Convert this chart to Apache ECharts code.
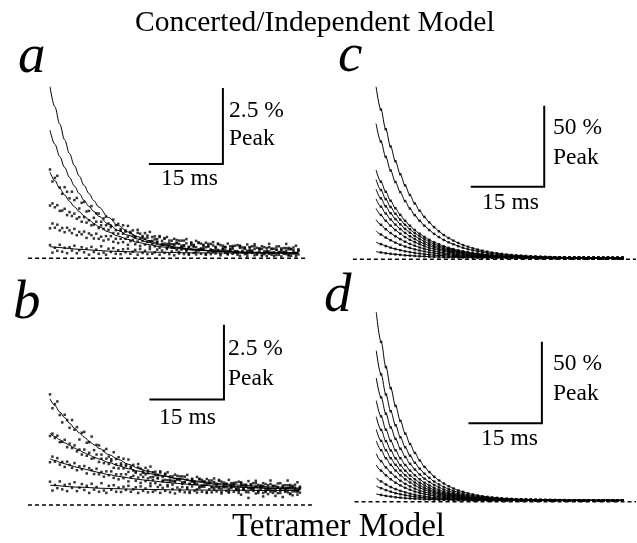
<!DOCTYPE html>
<html>
<head>
<meta charset="utf-8">
<script src="https://cdn.jsdelivr.net/npm/echarts@6/dist/echarts.min.js"></script>
<style>
html,body{margin:0;padding:0;background:#fff;}
#chart{width:637px;height:543px;}
</style>
</head>
<body>
<div id="chart"></div>
<script>
// ---------- time grids (ms) ----------
const tA = [0,0.5,1,1.5,2,2.5,3,3.5,4,4.5,5,5.5,6,6.5,7,7.5,8,8.5,9,9.5,10,10.5,11,11.5,12,12.5,13,13.5,14,14.5,15,15.5,16,16.5,17,17.5,18,18.5,19,19.5,20,20.5,21,21.5,22,22.5,23,23.5,24,24.5,25,25.5,26,26.5,27,27.5,28,28.5,29,29.5,30,30.5,31,31.5,32,32.5,33,33.5,34,34.5,35,35.5,36,36.5,37,37.5,38,38.5,39,39.5,40,40.5,41,41.5,42,42.5,43,43.5,44,44.5,45,45.5,46,46.5,47,47.5,48,48.5,49,49.5,50,50.5,51];
const tFit = [0,1,2,3,4,5,6,7,8,9,10,12,14,16,18,20,23,26,30,35,40,45,51];
const tC = [0,1,2,3,4,5,6,7,8,9,10,11,12,13,14,15,16,17,18,19,20,21,22,23,24,25,26,27,28,29,30,31,32,33,34,35,36,37,38,39,40,41,42,43,44,45,46,47,48,49,50,51];

// ---------- panel a: recorded traces (% peak) ----------
const aData1 = [2.96,2.56,2.68,2.75,2.36,2.15,2.37,2.22,2.00,2.22,1.94,2.01,1.66,1.85,1.88,1.56,1.58,1.74,1.35,1.50,1.49,1.22,1.33,1.39,1.16,1.09,1.29,1.10,1.15,0.92,1.10,0.93,1.08,0.84,0.93,0.72,0.95,0.82,0.70,0.84,0.69,0.88,0.58,0.73,0.64,0.74,0.48,0.67,0.71,0.50,0.59,0.44,0.61,0.48,0.59,0.42,0.50,0.37,0.53,0.45,0.37,0.53,0.33,0.45,0.37,0.48,0.28,0.43,0.38,0.28,0.44,0.30,0.37,0.24,0.40,0.31,0.42,0.24,0.35,0.21,0.36,0.25,0.37,0.18,0.31,0.35,0.21,0.31,0.17,0.34,0.23,0.31,0.17,0.28,0.19,0.33,0.15,0.25,0.30,0.16,0.27,0.18,0.30];
const aData2 = [1.76,1.83,1.70,1.77,1.58,1.59,1.65,1.44,1.54,1.41,1.49,1.32,1.37,1.22,1.37,1.19,1.27,1.10,1.12,1.22,1.01,1.10,0.98,1.10,0.95,1.04,0.84,0.94,0.82,0.97,0.82,0.89,0.72,0.88,0.76,0.71,0.85,0.65,0.74,0.65,0.76,0.57,0.71,0.63,0.55,0.71,0.58,0.65,0.48,0.59,0.47,0.65,0.50,0.59,0.38,0.43,0.64,0.38,0.50,0.42,0.58,0.30,0.49,0.36,0.52,0.41,0.29,0.54,0.36,0.47,0.25,0.42,0.28,0.49,0.29,0.37,0.20,0.44,0.40,0.21,0.31,0.46,0.24,0.26,0.47,0.12,0.33,0.40,0.14,0.22,0.48,0.19,0.32,0.11,0.40,0.25,0.19,0.48,0.35,0.08,0.21,0.42,0.13];
const aData3 = [1.00,1.16,1.02,1.12,0.93,1.01,0.87,1.02,0.93,0.84,0.98,0.77,0.88,0.80,0.89,0.68,0.83,0.77,0.66,0.82,0.65,0.72,0.59,0.74,0.63,0.74,0.55,0.65,0.51,0.65,0.54,0.65,0.45,0.57,0.61,0.47,0.56,0.41,0.58,0.46,0.54,0.39,0.49,0.40,0.54,0.35,0.45,0.49,0.35,0.45,0.36,0.47,0.52,0.21,0.42,0.59,0.28,0.15,0.44,0.37,0.22,0.51,0.30,0.43,0.14,0.39,0.48,0.21,0.29,0.49,0.15,0.35,0.38,0.15,0.31,0.41,0.22,0.18,0.42,0.25,0.34,0.14,0.36,0.22,0.40,0.18,0.29,0.12,0.37,0.25,0.15,0.32,0.20,0.39,0.12,0.29,0.21,0.34,0.10,0.30,0.36,0.15,0.26];
const aData4 = [0.44,0.19,0.35,0.25,0.45,0.22,0.35,0.17,0.37,0.26,0.42,0.17,0.27,0.37,0.20,0.32,0.12,0.38,0.21,0.29,0.15,0.40,0.19,0.12,0.32,0.21,0.34,0.15,0.27,0.14,0.30,0.20,0.32,0.15,0.22,0.28,0.12,0.31,0.18,0.25,0.14,0.31,0.15,0.20,0.29,0.12,0.26,0.18,0.31,0.14,0.23,0.10,0.27,0.16,0.29,0.14,0.24,0.12,0.31,0.18,0.13,0.26,0.15,0.30,0.12,0.22,0.14,0.27,0.16,0.25,0.10,0.28,0.18,0.13,0.26,0.15,0.24,0.12,0.08,0.36,0.14,0.06,0.27,0.40,0.10,0.17,0.31,0.07,0.23,0.08,0.37,0.12,0.08,0.29,0.21,0.06,0.34,0.14,0.10,0.32,0.16,0.07,0.25];
// panel a: concerted/independent model fits
const aFit1 = [5.72,5.05,4.47,3.95,3.49,3.09,2.74,2.43,2.16,1.92,1.71,1.36,1.09,0.88,0.72,0.60,0.46,0.37,0.29,0.23,0.20,0.19,0.18];
const aFit2 = [4.27,3.80,3.39,3.03,2.70,2.41,2.16,1.93,1.73,1.56,1.40,1.14,0.93,0.77,0.64,0.54,0.43,0.35,0.28,0.23,0.20,0.19,0.18];
const aFit3 = [2.87,2.59,2.33,2.11,1.90,1.72,1.56,1.41,1.28,1.16,1.06,0.88,0.74,0.63,0.53,0.46,0.38,0.32,0.27,0.23,0.20,0.19,0.18];
const aFit4 = [0.39,0.37,0.36,0.34,0.33,0.31,0.30,0.29,0.28,0.27,0.26,0.24,0.23,0.22,0.21,0.21,0.20,0.19,0.18,0.18,0.17,0.17,0.17];

// ---------- panel b: recorded traces (% peak) ----------
const bData1 = [3.75,3.28,3.42,3.51,3.05,2.80,3.06,2.88,2.62,2.88,2.55,2.64,2.22,2.45,2.48,2.11,2.13,2.32,1.86,2.04,2.02,1.71,1.84,1.90,1.64,1.55,1.79,1.56,1.62,1.35,1.57,1.37,1.54,1.26,1.36,1.12,1.39,1.23,1.09,1.26,1.08,1.30,0.95,1.13,1.02,1.14,0.83,1.06,1.11,0.86,0.97,0.79,0.99,0.84,0.97,0.77,0.86,0.71,0.89,0.80,0.71,0.89,0.66,0.80,0.71,0.83,0.60,0.78,0.72,0.60,0.79,0.62,0.71,0.55,0.74,0.63,0.76,0.55,0.68,0.52,0.69,0.57,0.70,0.48,0.63,0.68,0.52,0.64,0.47,0.67,0.54,0.64,0.47,0.60,0.49,0.66,0.45,0.57,0.62,0.46,0.59,0.48,0.62];
const bData2 = [2.34,2.42,2.27,2.35,2.13,2.14,2.21,1.96,2.08,1.93,2.02,1.82,1.88,1.71,1.88,1.67,1.77,1.57,1.59,1.71,1.46,1.57,1.42,1.57,1.39,1.49,1.26,1.38,1.24,1.41,1.24,1.32,1.12,1.30,1.17,1.10,1.27,1.03,1.14,1.04,1.17,0.94,1.11,1.01,0.92,1.10,0.95,1.04,0.84,0.97,0.82,1.03,0.86,0.97,0.72,0.78,1.02,0.72,0.86,0.76,0.95,0.62,0.85,0.69,0.88,0.75,0.61,0.90,0.69,0.82,0.56,0.76,0.60,0.85,0.61,0.71,0.51,0.79,0.74,0.52,0.63,0.81,0.55,0.58,0.82,0.41,0.66,0.74,0.44,0.53,0.83,0.49,0.65,0.40,0.74,0.57,0.49,0.83,0.68,0.33,0.52,0.77,0.42];
const bData3 = [1.45,1.64,1.47,1.59,1.37,1.46,1.29,1.47,1.36,1.26,1.42,1.18,1.31,1.21,1.32,1.07,1.25,1.18,1.05,1.23,1.04,1.12,0.96,1.14,1.01,1.14,0.92,1.04,0.87,1.04,0.91,1.04,0.80,0.94,0.99,0.82,0.93,0.75,0.95,0.81,0.90,0.73,0.85,0.74,0.90,0.68,0.80,0.85,0.68,0.80,0.69,0.82,0.88,0.52,0.77,0.96,0.60,0.45,0.79,0.71,0.53,0.87,0.62,0.78,0.44,0.73,0.83,0.52,0.61,0.85,0.45,0.68,0.72,0.45,0.64,0.75,0.53,0.48,0.77,0.57,0.67,0.43,0.69,0.53,0.74,0.48,0.61,0.41,0.71,0.57,0.45,0.65,0.50,0.73,0.41,0.61,0.52,0.67,0.37,0.62,0.69,0.45,0.58];
const bData4 = [0.79,0.49,0.68,0.57,0.80,0.53,0.68,0.47,0.71,0.58,0.77,0.47,0.59,0.71,0.51,0.65,0.41,0.72,0.52,0.61,0.45,0.74,0.49,0.41,0.65,0.52,0.67,0.45,0.59,0.44,0.62,0.51,0.65,0.45,0.53,0.60,0.41,0.63,0.48,0.56,0.43,0.64,0.45,0.50,0.61,0.41,0.58,0.48,0.63,0.43,0.54,0.39,0.59,0.46,0.61,0.43,0.55,0.41,0.63,0.48,0.42,0.58,0.45,0.62,0.41,0.53,0.43,0.59,0.46,0.56,0.39,0.60,0.48,0.42,0.58,0.45,0.55,0.41,0.35,0.69,0.44,0.24,0.59,0.74,0.39,0.47,0.64,0.29,0.54,0.37,0.71,0.41,0.31,0.61,0.52,0.27,0.67,0.43,0.39,0.65,0.46,0.35,0.56];
// panel b: tetramer model fits
const bFit1 = [3.60,3.37,3.15,2.96,2.77,2.60,2.44,2.30,2.16,2.04,1.92,1.71,1.54,1.38,1.25,1.14,1.00,0.89,0.78,0.68,0.61,0.57,0.53];
const bFit2 = [2.43,2.32,2.21,2.11,2.02,1.93,1.85,1.77,1.70,1.62,1.56,1.44,1.33,1.23,1.15,1.07,0.98,0.90,0.81,0.72,0.66,0.61,0.57];
const bFit3 = [1.57,1.51,1.45,1.40,1.35,1.30,1.26,1.22,1.18,1.14,1.10,1.03,0.97,0.92,0.87,0.83,0.78,0.73,0.68,0.63,0.59,0.56,0.54];
const bFit4 = [0.67,0.66,0.65,0.63,0.62,0.61,0.60,0.60,0.59,0.58,0.57,0.56,0.55,0.54,0.53,0.53,0.52,0.51,0.51,0.50,0.50,0.49,0.49];

// ---------- panel c: concerted model, % peak ----------
const c1 = [107.8,93.6,81.3,70.5,61.3,53.2,46.2,40.2,34.9,30.4,26.5,23.1,20.1,17.5,15.2,13.3,11.7,10.2,8.9,7.9,6.9,6.1,5.4,4.8,4.2,3.8,3.4,3.0,2.7,2.5,2.3,2.1,1.9,1.8,1.6,1.5,1.4,1.3,1.3,1.2,1.2,1.1,1.1,1.0,1.0,1.0,0.9,0.9,0.9,0.9,0.9,0.8];
const c2 = [84.8,73.6,64.0,55.5,48.3,42.0,36.4,31.7,27.6,24.1,21.0,18.3,15.9,13.9,12.1,10.6,9.4,8.2,7.2,6.3,5.6,5.0,4.4,3.9,3.5,3.2,2.8,2.6,2.3,2.1,2.0,1.8,1.7,1.6,1.5,1.4,1.3,1.2,1.2,1.1,1.1,1.0,1.0,1.0,0.9,0.9,0.9,0.9,0.9,0.8,0.8,0.8];
const c3 = [55.8,48.5,42.2,36.6,31.9,27.8,24.1,21.0,18.3,16.0,14.0,12.2,10.7,9.4,8.2,7.2,6.4,5.6,5.0,4.4,3.9,3.6,3.2,2.8,2.6,2.3,2.1,2.0,1.8,1.7,1.6,1.5,1.4,1.3,1.2,1.2,1.1,1.1,1.0,1.0,1.0,0.9,0.9,0.9,0.9,0.9,0.8,0.8,0.8,0.8,0.8,0.8];
const c4 = [49.8,43.3,37.6,32.7,28.5,24.8,21.6,18.8,16.4,14.4,12.6,11.0,9.6,8.4,7.4,6.5,5.8,5.1,4.5,4.0,3.6,3.3,2.9,2.6,2.4,2.2,2.0,1.8,1.7,1.6,1.5,1.4,1.3,1.2,1.2,1.1,1.1,1.0,1.0,1.0,0.9,0.9,0.9,0.9,0.8,0.8,0.8,0.8,0.8,0.8,0.8,0.8];
const c5 = [43.8,38.1,33.1,28.8,25.1,21.9,19.0,16.6,14.5,12.7,11.1,9.7,8.5,7.5,6.6,5.8,5.2,4.6,4.1,3.6,3.3,3.0,2.7,2.4,2.2,2.0,1.8,1.7,1.6,1.5,1.4,1.3,1.3,1.2,1.1,1.1,1.0,1.0,1.0,0.9,0.9,0.9,0.9,0.8,0.8,0.8,0.8,0.8,0.8,0.8,0.8,0.8];
const c6 = [37.8,32.9,28.6,24.9,21.7,18.9,16.5,14.4,12.6,11.0,9.7,8.5,7.5,6.6,5.8,5.1,4.6,4.1,3.6,3.2,2.9,2.7,2.4,2.2,2.0,1.8,1.7,1.6,1.5,1.4,1.3,1.2,1.2,1.1,1.1,1.0,1.0,1.0,0.9,0.9,0.9,0.9,0.8,0.8,0.8,0.8,0.8,0.8,0.8,0.8,0.8,0.8];
const c7 = [31.8,27.7,24.1,21.0,18.3,16.0,13.9,12.2,10.7,9.4,8.2,7.2,6.4,5.6,5.0,4.4,4.0,3.5,3.2,2.8,2.6,2.4,2.1,2.0,1.8,1.7,1.6,1.5,1.4,1.3,1.2,1.2,1.1,1.1,1.0,1.0,1.0,0.9,0.9,0.9,0.9,0.8,0.8,0.8,0.8,0.8,0.8,0.8,0.8,0.8,0.8,0.8];
const c8 = [24.8,21.6,18.8,16.4,14.4,12.6,11.0,9.6,8.5,7.4,6.6,5.8,5.1,4.5,4.0,3.6,3.2,2.9,2.6,2.4,2.2,2.0,1.8,1.7,1.6,1.5,1.4,1.3,1.2,1.2,1.1,1.1,1.0,1.0,1.0,0.9,0.9,0.9,0.9,0.8,0.8,0.8,0.8,0.8,0.8,0.8,0.8,0.8,0.8,0.8,0.8,0.8];
const c9 = [17.8,15.5,13.6,11.9,10.4,9.1,8.0,7.1,6.2,5.5,4.9,4.3,3.9,3.5,3.1,2.8,2.5,2.3,2.1,1.9,1.8,1.6,1.5,1.4,1.4,1.3,1.2,1.2,1.1,1.1,1.0,1.0,1.0,0.9,0.9,0.9,0.9,0.8,0.8,0.8,0.8,0.8,0.8,0.8,0.8,0.8,0.8,0.8,0.8,0.8,0.8,0.8];
const c10 = [10.8,9.5,8.3,7.3,6.4,5.7,5.0,4.5,4.0,3.6,3.2,2.9,2.6,2.4,2.2,2.0,1.8,1.7,1.6,1.5,1.4,1.3,1.2,1.2,1.1,1.1,1.0,1.0,1.0,1.0,0.9,0.9,0.9,0.9,0.8,0.8,0.8,0.8,0.8,0.8,0.8,0.8,0.8,0.8,0.8,0.8,0.8,0.8,0.8,0.8,0.8,0.8];
const c11 = [4.8,4.3,3.8,3.4,3.1,2.8,2.5,2.3,2.1,1.9,1.8,1.6,1.5,1.4,1.3,1.3,1.2,1.2,1.1,1.1,1.0,1.0,1.0,0.9,0.9,0.9,0.9,0.9,0.8,0.8,0.8,0.8,0.8,0.8,0.8,0.8,0.8,0.8,0.8,0.8,0.8,0.8,0.8,0.8,0.8,0.8,0.8,0.8,0.8,0.8,0.8,0.8];

// ---------- panel d: tetramer model, % peak ----------
const d1 = [117.8,99.3,83.6,70.5,59.5,50.2,42.3,35.8,30.3,25.6,21.6,18.4,15.5,13.2,11.3,9.6,8.2,7.0,6.1,5.2,4.5,3.9,3.4,3.0,2.7,2.4,2.1,1.9,1.7,1.6,1.5,1.4,1.3,1.2,1.2,1.1,1.1,1.0,1.0,1.0,0.9,0.9,0.9,0.9,0.9,0.8,0.8,0.8,0.8,0.8,0.8,0.8];
const d2 = [93.8,79.1,66.6,56.2,47.5,40.0,33.8,28.6,24.2,20.5,17.4,14.8,12.5,10.7,9.1,7.8,6.7,5.8,5.0,4.3,3.8,3.3,2.9,2.6,2.3,2.1,1.9,1.7,1.6,1.4,1.3,1.2,1.2,1.1,1.1,1.0,1.0,1.0,0.9,0.9,0.9,0.9,0.8,0.8,0.8,0.8,0.8,0.8,0.8,0.8,0.8,0.8];
const d3 = [76.8,64.8,54.6,46.1,39.0,32.9,27.8,23.5,20.0,16.9,14.3,12.2,10.4,8.9,7.6,6.5,5.6,4.9,4.2,3.7,3.2,2.8,2.5,2.2,2.0,1.8,1.7,1.5,1.4,1.3,1.2,1.1,1.1,1.0,1.0,1.0,0.9,0.9,0.9,0.9,0.8,0.8,0.8,0.8,0.8,0.8,0.8,0.8,0.8,0.8,0.8,0.8];
const d4 = [62.8,53.0,44.7,37.8,31.9,27.0,22.8,19.3,16.4,13.9,11.8,10.1,8.6,7.4,6.3,5.5,4.7,4.1,3.6,3.1,2.8,2.5,2.2,2.0,1.8,1.6,1.5,1.4,1.3,1.2,1.2,1.1,1.0,1.0,1.0,0.9,0.9,0.9,0.9,0.8,0.8,0.8,0.8,0.8,0.8,0.8,0.8,0.8,0.8,0.8,0.8,0.8];
const d5 = [52.8,44.6,37.6,31.8,26.9,22.7,19.3,16.3,13.9,11.8,10.1,8.6,7.4,6.3,5.5,4.7,4.1,3.6,3.1,2.8,2.5,2.2,2.0,1.8,1.6,1.5,1.4,1.3,1.2,1.2,1.1,1.0,1.0,1.0,0.9,0.9,0.9,0.9,0.8,0.8,0.8,0.8,0.8,0.8,0.8,0.8,0.8,0.8,0.8,0.8,0.8,0.8];
const d6 = [44.8,37.8,32.0,27.0,22.9,19.4,16.4,14.0,11.9,10.1,8.6,7.4,6.3,5.5,4.7,4.1,3.6,3.1,2.8,2.5,2.2,2.0,1.8,1.6,1.5,1.4,1.3,1.2,1.2,1.1,1.1,1.0,1.0,0.9,0.9,0.9,0.9,0.8,0.8,0.8,0.8,0.8,0.8,0.8,0.8,0.8,0.8,0.8,0.8,0.8,0.8,0.8];
const d7 = [37.8,32.0,27.0,22.9,19.4,16.4,13.9,11.9,10.1,8.6,7.4,6.4,5.5,4.7,4.1,3.6,3.1,2.8,2.5,2.2,2.0,1.8,1.6,1.5,1.4,1.3,1.2,1.2,1.1,1.1,1.0,1.0,0.9,0.9,0.9,0.9,0.8,0.8,0.8,0.8,0.8,0.8,0.8,0.8,0.8,0.8,0.8,0.8,0.8,0.8,0.8,0.8];
const d8 = [29.8,25.2,21.3,18.1,15.4,13.0,11.1,9.5,8.1,6.9,6.0,5.2,4.5,3.9,3.4,3.0,2.6,2.3,2.1,1.9,1.7,1.6,1.5,1.4,1.3,1.2,1.1,1.1,1.0,1.0,1.0,0.9,0.9,0.9,0.8,0.8,0.8,0.8,0.8,0.8,0.8,0.8,0.8,0.8,0.8,0.8,0.8,0.8,0.8,0.8,0.8,0.8];
const d9 = [22.8,19.3,16.4,13.9,11.8,10.1,8.6,7.4,6.3,5.5,4.7,4.1,3.6,3.1,2.8,2.5,2.2,2.0,1.8,1.6,1.5,1.4,1.3,1.2,1.2,1.1,1.1,1.0,1.0,1.0,0.9,0.9,0.9,0.8,0.8,0.8,0.8,0.8,0.8,0.8,0.8,0.8,0.8,0.8,0.8,0.8,0.8,0.8,0.8,0.8,0.8,0.8];
const d10 = [14.8,12.6,10.7,9.1,7.8,6.7,5.8,5.0,4.3,3.8,3.3,2.9,2.6,2.3,2.1,1.9,1.7,1.6,1.4,1.3,1.3,1.2,1.1,1.1,1.0,1.0,1.0,0.9,0.9,0.9,0.9,0.8,0.8,0.8,0.8,0.8,0.8,0.8,0.8,0.8,0.8,0.8,0.8,0.8,0.8,0.8,0.8,0.8,0.8,0.8,0.8,0.8];
const d11 = [9.8,8.4,7.2,6.2,5.3,4.6,4.0,3.5,3.1,2.7,2.4,2.2,1.9,1.8,1.6,1.5,1.4,1.3,1.2,1.2,1.1,1.1,1.0,1.0,1.0,0.9,0.9,0.9,0.9,0.9,0.8,0.8,0.8,0.8,0.8,0.8,0.8,0.8,0.8,0.8,0.8,0.8,0.8,0.8,0.8,0.8,0.8,0.8,0.8,0.8,0.8,0.8];
const d12 = [4.8,4.2,3.6,3.2,2.8,2.5,2.2,2.0,1.8,1.7,1.5,1.4,1.3,1.2,1.2,1.1,1.1,1.0,1.0,1.0,0.9,0.9,0.9,0.9,0.9,0.8,0.8,0.8,0.8,0.8,0.8,0.8,0.8,0.8,0.8,0.8,0.8,0.8,0.8,0.8,0.8,0.8,0.8,0.8,0.8,0.8,0.8,0.8,0.8,0.8,0.8,0.8];

// ---------- scale bars and baselines (data units) ----------
const barCornerX = [35.5, 35.5, 34.8, 34.3];   // ms
const barCornerY = [3.14, 3.58, 45.4, 48.7];   // % peak
const barLenX = [15, 15, 15, 15];              // ms
const barLenY = [2.5, 2.5, 50, 50];            // % peak
const barTextY = ['2.5 %', '2.5 %', '50 %', '50 %'];
const barTextX = ['15 ms', '15 ms', '15 ms', '15 ms'];
const baseStart = [-4.5, -4.5, -4.8, -4.5];
const baseEnd = [52.8, 53.5, 53.8, 53.8];
const panelLetters = ['a', 'b', 'c', 'd'];
const titleTop = 'Concerted/Independent Model';
const titleBottom = 'Tetramer Model';

// ---------- build chart ----------
const SERIF = '"Liberation Serif","Times New Roman",serif';
const series = [];
function pairs(xs, ys, from) {
  const out = [];
  for (let i = from || 0; i < ys.length; i++) out.push([xs[i], ys[i]]);
  return out;
}
function addLine(g, xs, ys, extra) {
  series.push(Object.assign({
    type: 'line', xAxisIndex: g, yAxisIndex: g, data: pairs(xs, ys),
    showSymbol: false, symbol: 'none', smooth: 0.35, smoothMonotone: 'x',
    lineStyle: { color: '#000', width: 1 }, silent: true, animation: false, z: 3
  }, extra || {}));
}
function addDots(g, xs, ys, from, size) {
  series.push({
    type: 'scatter', xAxisIndex: g, yAxisIndex: g, data: pairs(xs, ys, from),
    symbol: 'rect', symbolSize: size, itemStyle: { color: '#000' },
    silent: true, animation: false, z: 2
  });
}

// panel a
[aData1, aData2, aData3, aData4].forEach(d => addDots(0, tA, d, 0, 2.5));
[aFit1, aFit2, aFit3, aFit4].forEach(f => addLine(0, tFit, f));
// panel b
[bData1, bData2, bData3, bData4].forEach(d => addDots(1, tA, d, 0, 2.5));
[bFit1, bFit2, bFit3, bFit4].forEach(f => addLine(1, tFit, f));
// panel c
[c1,c2,c3,c4,c5,c6,c7,c8,c9,c10,c11].forEach(c => { addLine(2, tC, c); addDots(2, tC, c, 1, 2.5); });
// panel d
[d1,d2,d3,d4,d5,d6,d7,d8,d9,d10,d11,d12].forEach(c => { addLine(3, tC, c); addDots(3, tC, c, 1, 2.5); });

// baselines and scale bars
for (let g = 0; g < 4; g++) {
  addLine(g, [baseStart[g], baseEnd[g]], [0, 0], {
    smooth: false, lineStyle: { color: '#000', width: 1.5, type: [4, 3] }
  });
  const cx = barCornerX[g], cy = barCornerY[g];
  addLine(g, [cx - barLenX[g], cx, cx], [cy, cy, cy + barLenY[g]], {
    smooth: false, lineStyle: { color: '#000', width: 2, join: 'miter', cap: 'square' }
  });
}

const grids = [
  { left: 20.8, top: 48.3, width: 292.2, height: 240 },
  { left: 20.6, top: 298.5, width: 294, height: 236 },
  { left: 347.1, top: 67.3, width: 295.8, height: 208 },
  { left: 347.3, top: 308.5, width: 300, height: 209.3 }
];
const yRanges = [[-1, 7], [-1, 7], [-10, 120], [-10, 120]];

function txt(text, x, y, size, extra) {
  return Object.assign({
    type: 'text', x: x, y: y, silent: true,
    style: Object.assign({
      text: text, font: size + 'px ' + SERIF, fill: '#000',
      textAlign: 'left', textVerticalAlign: 'middle', verticalAlign: 'middle'
    }, extra || {})
  });
}
const letterPos = [[18, 57.5], [13, 304], [338, 57], [324, 296.5]];
const yTextPos = [[229, 110.5, 139], [228, 349, 378.5], [553, 127.5, 157.5], [553, 364, 394]];
const xTextPos = [[161, 179], [159, 417.5], [482, 202.5], [481, 439]];

const graphic = [
  txt(titleTop, 135, 23, 29.5),
  txt(titleBottom, 232, 527, 33)
];
for (let g = 0; g < 4; g++) {
  graphic.push(txt(panelLetters[g], letterPos[g][0], letterPos[g][1], 55, { font: 'italic 55px ' + SERIF }));
  graphic.push(txt(barTextY[g], yTextPos[g][0], yTextPos[g][1], 23.5));
  graphic.push(txt('Peak', yTextPos[g][0], yTextPos[g][2], 23.5));
  graphic.push(txt(barTextX[g], xTextPos[g][0], xTextPos[g][1], 23.5));
}

const chart = echarts.init(document.getElementById('chart'), null, { renderer: 'canvas' });
chart.setOption({
  backgroundColor: '#fff',
  animation: false,
  grid: grids,
  xAxis: grids.map((_, i) => ({ type: 'value', gridIndex: i, min: -6, max: 54, show: false })),
  yAxis: grids.map((_, i) => ({ type: 'value', gridIndex: i, min: yRanges[i][0], max: yRanges[i][1], show: false })),
  series: series,
  graphic: graphic
});
</script>
</body>
</html>
